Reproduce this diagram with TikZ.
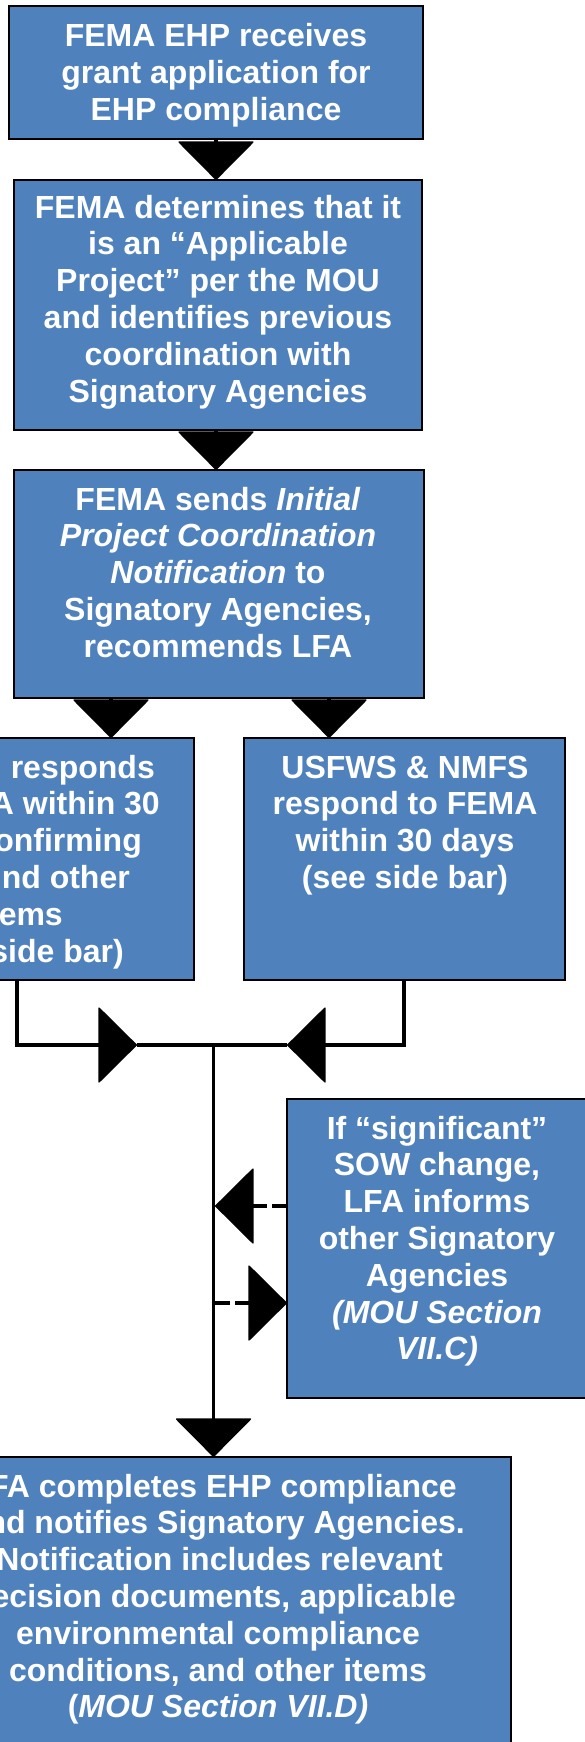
\documentclass[tikz,border=0pt]{standalone}
\usepackage{fontspec}
\setmainfont{Liberation Sans}
\usetikzlibrary{arrows.meta}
\definecolor{boxblue}{HTML}{4F81BD}
\begin{document}
\begin{tikzpicture}[x=1pt,y=-1pt,
  box/.style={draw=black, line width=2.2pt, fill=boxblue, inner sep=0pt, outer sep=0pt},
  txt/.style={text=white, font=\bfseries\fontsize{32}{36.8}\selectfont, inner sep=0pt, anchor=base},
  >={Triangle[width=77pt,length=39pt,line width=1.5pt,round]},
  conn/.style={draw=black, line width=3.5pt, ->},
  plainline/.style={draw=black, line width=3.5pt},
  dconn/.style={conn, dash pattern=on 15pt off 5pt},
]
\useasboundingbox (0,0) rectangle (585,1742);
\clip (0,0) rectangle (585,1742);

% boxes
\node[box, minimum width=414pt, minimum height=133pt] (b1) at (216,72.5) {};
\node[box, minimum width=408pt, minimum height=250pt] (b2) at (218,305) {};
\node[box, minimum width=410pt, minimum height=228pt] (b3) at (219,584) {};
\node[box, minimum width=324pt, minimum height=242pt] (b4) at (32,859) {};
\node[box, minimum width=321pt, minimum height=242pt] (b5) at (404.5,859) {};
\node[box, minimum width=303pt, minimum height=299pt] (b6) at (438.5,1248.5) {};
\node[box, minimum width=594pt, minimum height=343pt] (b7) at (214,1628.5) {};

% texts
\node[txt] (t1) at (216,47) {\begin{tabular}[t]{@{}c@{}}FEMA EHP receives\\grant application for\\EHP compliance\end{tabular}};
\node[txt] (t2) at (218,218) {\begin{tabular}[t]{@{}c@{}}FEMA determines that it\\is an “Applicable\\Project” per the MOU\\and identifies previous\\coordination with\\Signatory Agencies\end{tabular}};
\node[txt] (t3) at (218,510) {\begin{tabular}[t]{@{}c@{}}FEMA sends \textit{Initial}\\\textit{Project Coordination}\\\textit{Notification} to\\Signatory Agencies,\\recommends LFA\end{tabular}};
\node[txt, anchor=base east] (t4a) at (155,778) {responds};
\node[txt, anchor=base east] (t4b) at (160,814.8) {A within 30};
\node[txt, anchor=base east] (t4c) at (142,851.6) {onfirming};
\node[txt, anchor=base east] (t4d) at (130,888.4) {nd other};
\node[txt, anchor=base east] (t4e) at (63,925.2) {tems};
\node[txt, anchor=base east] (t4f) at (124,962) {side bar)};
\node[txt] (t5) at (405,778) {\begin{tabular}[t]{@{}c@{}}USFWS \& NMFS\\respond to FEMA\\within 30 days\\(see side bar)\end{tabular}};
\node[txt] (t6) at (437,1139) {\begin{tabular}[t]{@{}c@{}}If “significant”\\SOW change,\\LFA informs\\other Signatory\\Agencies\\\textit{(MOU Section}\\\textit{VII.C)}\end{tabular}};
\node[txt, anchor=base east] (t7a) at (457,1497) {FA completes EHP compliance};
\node[txt, anchor=base east] (t7b) at (465,1533.8) {nd notifies Signatory Agencies.};
\node[txt, anchor=base east] (t7c) at (443,1570.6) {Notification includes relevant};
\node[txt, anchor=base east] (t7d) at (456,1607.4) {ecision documents, applicable};
\node[txt] (t7e) at (218,1644.2) {\begin{tabular}[t]{@{}c@{}}environmental compliance\\conditions, and other items\\(\textit{MOU Section VII.D)}\end{tabular}};

% connectors
\coordinate (j) at (213.5,1045);
\coordinate (mL) at (137,1045);
\coordinate (mR) at (287,1045);
\coordinate (d1) at (215,1206);
\coordinate (d2) at (215,1303);

\draw[conn] (b1.south) -- (b1.south |- b2.north);
\draw[conn] ([xshift=-2pt]b2.south) -- ([xshift=-2pt]b2.south |- b3.north);
\draw[conn] ([xshift=-108pt]b3.south) -- ([xshift=-108pt]b3.south |- b4.north);
\draw[conn] ([xshift=110pt]b3.south) -- ([xshift=110pt]b3.south |- b5.north);
\draw[conn] ([xshift=-177pt]b4.south east) |- (mL);
\draw[plainline] (mL) -- (mR);
\draw[conn] ([xshift=-0.5pt]b5.south) |- (mR);
\draw[conn] (j) -- (j |- b7.north);
\draw[dconn] (d1 -| b6.west) -- (d1);
\draw[dconn] (d2) -- (d2 -| b6.west);
\end{tikzpicture}
\end{document}
